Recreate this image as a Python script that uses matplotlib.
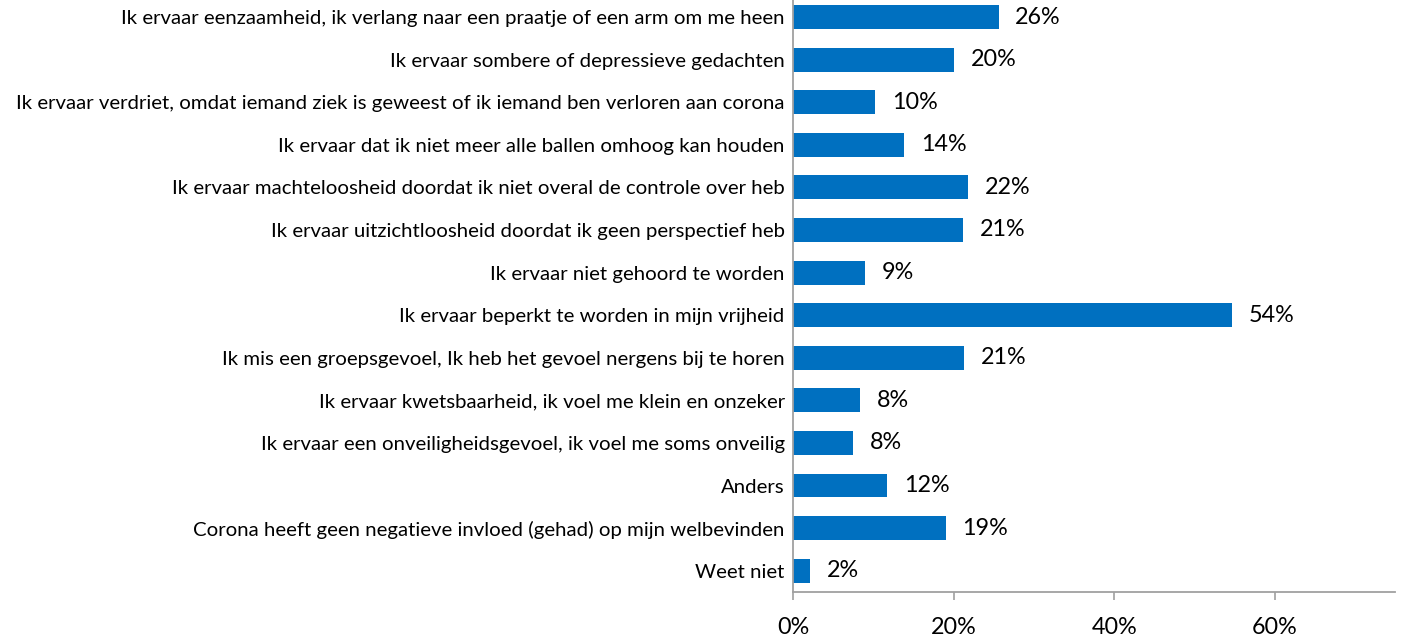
import numpy as np
import matplotlib.pyplot as plt

categories = [
    "Ik ervaar eenzaamheid, ik verlang naar een praatje of een arm om me heen",
    "Ik ervaar sombere of depressieve gedachten",
    "Ik ervaar verdriet, omdat iemand ziek is geweest of ik iemand ben verloren aan corona",
    "Ik ervaar dat ik niet meer alle ballen omhoog kan houden",
    "Ik ervaar machteloosheid doordat ik niet overal de controle over heb",
    "Ik ervaar uitzichtloosheid doordat ik geen perspectief heb",
    "Ik ervaar niet gehoord te worden",
    "Ik ervaar beperkt te worden in mijn vrijheid",
    "Ik mis een groepsgevoel, Ik heb het gevoel nergens bij te horen",
    "Ik ervaar kwetsbaarheid, ik voel me klein en onzeker",
    "Ik ervaar een onveiligheidsgevoel, ik voel me soms onveilig",
    "Anders",
    "Corona heeft geen negatieve invloed (gehad) op mijn welbevinden",
    "Weet niet",
]
values = [25.6, 20.1, 10.25, 13.85, 21.8, 21.2, 9.0, 54.6, 21.3, 8.4, 7.5, 11.7, 19.0, 2.15]
labels = ["26%", "20%", "10%", "14%", "22%", "21%", "9%", "54%", "21%", "8%", "8%", "12%", "19%", "2%"]
xticks = [0, 20, 40, 60]

plt.rcParams['font.family'] = ['Lato', 'DejaVu Sans']

fig = plt.figure(figsize=(14.11, 6.37), dpi=100)
ax = fig.add_axes([0.562, 0.0706, 0.427, 0.9294])

y = np.arange(len(categories))
ax.barh(y, values, height=0.56, color='#0070C0')

for yi, v, lab in zip(y, values, labels):
    ax.annotate(lab, (v, yi), xytext=(12, 0), textcoords='offset points',
                va='center', ha='left', fontsize=16.8, color='black')

ax.set_yticks(y)
ax.set_yticklabels(categories, fontsize=14.7)
ax.set_ylim(13.5, -0.4)
ax.set_xlim(0, 75)
ax.set_xticks(xticks)
ax.set_xticklabels([f"{t}%" for t in xticks], fontsize=16.8)

ax.tick_params(axis='y', length=0, pad=6)
ax.tick_params(axis='x', length=6, width=1.2, color='#A0A0A0', pad=12, direction='out')

for s in ['top', 'right']:
    ax.spines[s].set_visible(False)
for s in ['left', 'bottom']:
    ax.spines[s].set_color('#A0A0A0')
    ax.spines[s].set_linewidth(1.3)

fig.savefig('out.png', dpi=100)
